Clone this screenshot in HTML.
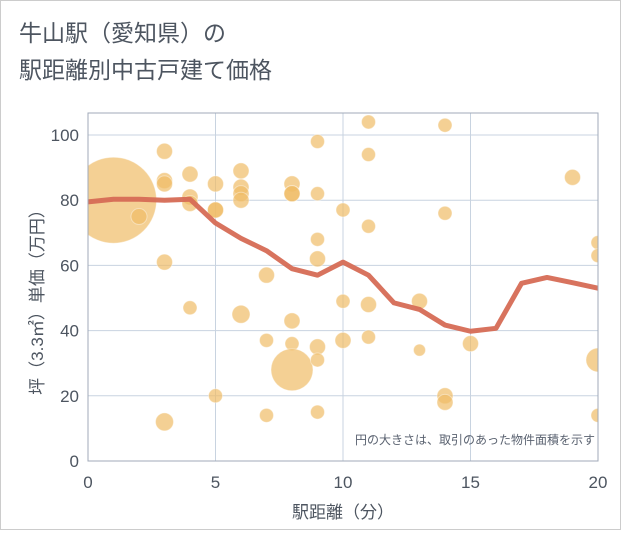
<!DOCTYPE html>
<html><head><meta charset="utf-8"><style>
body{margin:0;background:#fff;font-family:"Liberation Sans","Noto Sans CJK JP",sans-serif;}
#wrap{position:relative;width:619px;height:528px;border:1px solid #ccc;background:#fff;}
svg text{font-family:"Liberation Sans","Noto Sans CJK JP",sans-serif;}
</style></head><body>
<div id="wrap">
<svg id="chart" width="621" height="530">
<text x="18" y="40" font-size="23" fill="#4d5560">牛山駅（愛知県）の</text>
<text x="18" y="77" font-size="23" fill="#4d5560">駅距離別中古戸建て価格</text>
<g id="grid"></g><g id="bubbles"></g><g id="line"></g><g id="axes"></g>
<text x="342" y="517" font-size="17" fill="#4d5560" text-anchor="middle">駅距離（分）</text>
<text transform="translate(42,297) rotate(-90)" font-size="17" fill="#4d5560" text-anchor="middle">坪（3.3㎡）単価（万円）</text>
<text x="594" y="443" font-size="12" fill="#5a6270" text-anchor="end">円の大きさは、取引のあった物件面積を示す</text>
</svg></div>
<script>
const xTicks=[0,5,10,15,20];
const yTicks=[0,20,40,60,80,100];
const bubbleX=[1,2,3,3,3,3,3,4,4,4,4,5,5,5,5,6,6,6,6,6,7,7,7,8,8,8,8,8,8,9,9,9,9,9,9,9,10,10,10,11,11,11,11,11,13,13,14,14,14,14,15,19,20,20,20,20];
const bubbleY=[80,75,95,86,85,61,12,88,81,79,47,85,77,77,20,89,84,82,80,45,57,37,14,85,82,82,43,36,28,98,82,68,62,35,31,15,77,49,37,104,94,72,48,38,49,34,103,76,20,18,36,87,67,63,31,14];
const bubbleR=[43,8,8,8,8,8,9,8,8,8,7,8,8,8,7,8,8,8,8,9,8,7,7,8,8,8,8,7,21,7,7,7,8,8,7,7,7,7,8,7,7,7,8,7,8,6,7,7,8,8,8,8,7,7,12,7];
const lineX=[0,1,2,3,4,5,6,7,8,9,10,11,12,13,14,15,16,17,18,19,20];
const lineY=[79.5,80.3,80.3,80,80.3,73,68.3,64.5,59,57,61,57,48.5,46.5,41.7,39.8,40.7,54.5,56.3,54.7,53];
const L=87,R=597,T=112,B=460;
const sx=v=>L+(v-0)/20*(R-L);
const sy=v=>460-v*3.26;
const NS="http://www.w3.org/2000/svg";
function mk(t,a,p){const e=document.createElementNS(NS,t);for(const k in a)e.setAttribute(k,a[k]);p.appendChild(e);return e;}
const grid=document.getElementById('grid'),axes=document.getElementById('axes');
xTicks.forEach(v=>{const l=mk('line',{x1:sx(v),x2:sx(v),y1:T,y2:B,stroke:'#c8d3e0','stroke-width':1},grid);

const t=mk('text',{x:sx(v),y:487,'font-size':17,fill:'#4d5560','text-anchor':'middle'},axes);t.textContent=v;
});
yTicks.forEach(v=>{const l=mk('line',{x1:L,x2:R,y1:sy(v),y2:sy(v),stroke:'#c8d3e0','stroke-width':1},grid);

const t=mk('text',{x:78,y:sy(v)+6,'font-size':17,fill:'#4d5560','text-anchor':'end'},axes);t.textContent=v;
});
const fr=mk('rect',{x:L,y:T,width:R-L,height:B-T,fill:'none',stroke:'#a0aab8'},axes);

const svg=document.getElementById('chart');
const defs=mk('defs',{},svg);const cp=mk('clipPath',{id:'clip'},defs);mk('rect',{x:L,y:T,width:R-L,height:B-T},cp);
const bg=document.getElementById('bubbles');bg.setAttribute('clip-path','url(#clip)');
bubbleX.forEach((x,i)=>{const c=mk('circle',{cx:sx(x),cy:sy(bubbleY[i]),r:bubbleR[i],fill:'#f0bc66','fill-opacity':0.7,stroke:'#fff','stroke-opacity':0.4},bg);
});
const pts=lineX.map((x,i)=>sx(x)+','+sy(lineY[i])).join(' ');
const pl=mk('polyline',{points:pts,fill:'none',stroke:'#d66b55','stroke-width':5,'stroke-linejoin':'round','stroke-opacity':0.95},document.getElementById('line'));

</script>
</body></html>
